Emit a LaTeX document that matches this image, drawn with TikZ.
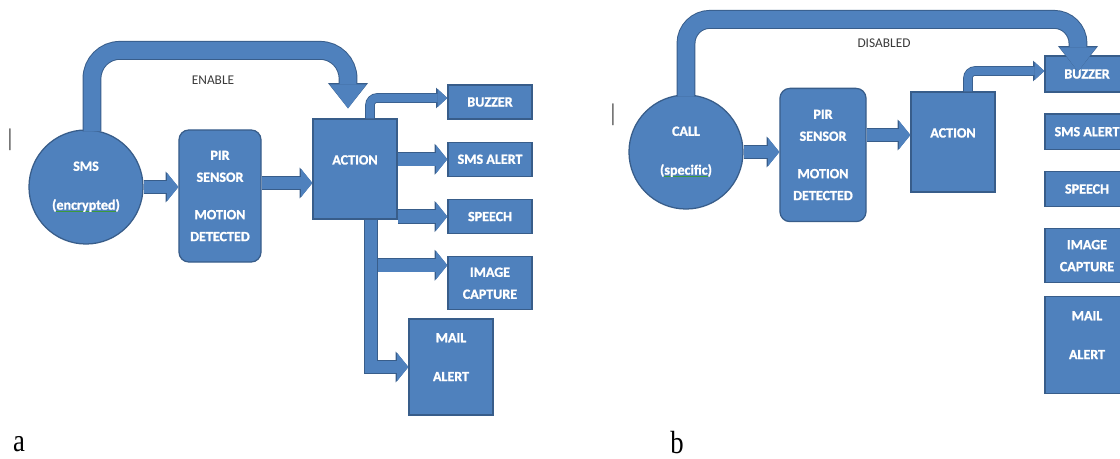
\documentclass[tikz,border=0pt]{standalone}
\usepackage{fontspec}
\setmainfont{Liberation Serif}
\newfontfamily\calibri{Carlito}[BoldFont={Carlito Bold}, BoldFeatures={FakeBold=1.2}]
\usetikzlibrary{positioning, arrows.meta, calc}

\definecolor{boxblue}{HTML}{4F81BD}
\definecolor{edgeblue}{HTML}{385D8A}
\definecolor{notegrey}{HTML}{3A3A3A}
\definecolor{spellgreen}{HTML}{3C9A3C}

\newcommand{\spellmark}[1]{{\setbox0=\hbox{#1}\rlap{\color{spellgreen}\rule[-2pt]{\wd0}{0.7pt}}\box0}}

\begin{document}
\begin{tikzpicture}[
    x=0.025cm, y=-0.025cm,
    block/.style={draw=edgeblue, fill=boxblue, line width=0.9pt, text=white, align=center, inner sep=0pt,
      font=\calibri\fontsize{10}{15.6}\selectfont\bfseries},
    source/.style={block, circle, minimum size=2.85cm},
    sensor/.style={block, rounded corners=7pt, minimum width=2.05cm, minimum height=3.3cm},
    action/.style={block, minimum width=2.1cm, minimum height=2.5cm, text depth=13pt},
    outbox/.style={block, minimum width=2.1cm, minimum height=0.85cm},
    mailbox/.style={block, minimum width=2.1cm, minimum height=2.4cm, text depth=14pt},
    note/.style={font=\calibri\fontsize{9.5}{11}\selectfont, text=notegrey},
    cursor/.style={font=\fontsize{17}{18}\selectfont, text=notegrey},
    caption/.style={font=\fontsize{19}{20}\selectfont, inner sep=0pt},
    bigflow/.style={draw=boxblue, line width=12pt, -{Triangle[width=26pt, length=17pt, line width=0pt]},
      preaction={draw=edgeblue, line width=13.4pt, -{Triangle[width=28.5pt, length=18pt, line width=0pt]}}},
    midflow/.style={draw=boxblue, line width=9pt, -{Triangle[width=20pt, length=8pt, line width=0pt]},
      preaction={draw=edgeblue, line width=10.2pt, -{Triangle[width=22pt, length=9pt, line width=0pt]}}},
    thinflow/.style={draw=boxblue, line width=5.7pt, -{Triangle[width=12.8pt, length=7pt, line width=0pt]},
      preaction={draw=edgeblue, line width=6.8pt, -{Triangle[width=14.6pt, length=8pt, line width=0pt]}}}
  ]
  \useasboundingbox (0,0) rectangle (1120,459);

  % panel a
  \node[source] (sms) at (86,187) {SMS\\[12pt](\spellmark{encrypted})};
  \node[sensor] (pir) at (220,196) {PIR\\SENSOR\\[11pt]MOTION\\DETECTED};
  \node[action] (act) at (355,169) {ACTION};
  \node[outbox] (buz) at (490,102) {BUZZER};
  \node[outbox, below=0.55cm of buz] (smsa) {SMS ALERT};
  \node[outbox, below=0.55cm of smsa] (spe) {SPEECH};
  \node[outbox, minimum height=1.32cm, below=0.55cm of spe] (img) {IMAGE\\CAPTURE};
  \node[mailbox] (mail) at (451,367) {MAIL\\[12pt]ALERT};

  \draw[bigflow, rounded corners=0.7cm] ($(sms.north)+(6,2)$) |- ($(act.north)+(-7,-68)$) -- ($(act.north)+(-7,-10)$);
  \draw[midflow] (sms.east) -- (sms.east -| pir.west);
  \coordinate (pirout) at ($(pir.east)+(0,-13)$);
  \draw[midflow] (pirout) -- (pirout -| act.west);
  \draw[thinflow, rounded corners=5pt] ($(act.north)+(15,0)$) |- ($(buz.west)+(0,-4)$);
  \draw[midflow] (act.east |- smsa.west) -- (smsa.west);
  \draw[midflow] (act.east |- spe.west) -- (spe.west);
  \draw[midflow] ($(act.south)+(16,0)$) |- ($(img.west)+(0,-18)$);
  \draw[midflow] ($(act.south)+(16,0)$) |- (mail.west);

  \node[note] (enable) at (213,80) {ENABLE};
  \node[cursor] (marka) at (10,140) {\textbar};
  \node[caption] (capa) at (19,444) {\scalebox{1}[1.2]{a}};

  % panel b
  \node[source] (call) at (686,152) {CALL\\[12pt](\spellmark{specific})};
  \node[sensor, minimum width=2.15cm, minimum height=3.33cm] (pir2) at (823,155) {PIR\\SENSOR\\[11pt]MOTION\\DETECTED};
  \node[action] (act2) at (953,142) {ACTION};
  \node[outbox, minimum height=0.9cm] (buz2) at (1087,74) {BUZZER};
  \node[outbox, minimum height=0.88cm, below=0.52cm of buz2] (smsa2) {SMS ALERT};
  \node[outbox, minimum height=0.88cm, below=0.52cm of smsa2] (spe2) {SPEECH};
  \node[outbox, minimum height=1.35cm, below=0.52cm of spe2] (img2) {IMAGE\\CAPTURE};
  \node[mailbox, minimum height=2.43cm] (mail2) at (1087,345) {MAIL\\[12pt]ALERT};

  \draw[midflow] (call.east) -- (call.east -| pir2.west);
  \coordinate (pir2out) at ($(pir2.east)+(0,-20)$);
  \draw[midflow] (pir2out) -- (pir2out -| act2.west);
  \draw[thinflow, rounded corners=5pt] ($(act2.north)+(15,0)$) |- ($(buz2.west)+(0,-3)$);
  \draw[bigflow, rounded corners=0.6cm] ($(call.north)+(0,2)$) |- ($(buz2.north)+(-9,-36)$) -- ($(buz2.north)+(-9,16)$);

  \node[note] (disabled) at (884,43) {DISABLED};
  \node[cursor] (markb) at (613,115) {\textbar};
  \node[caption] (capb) at (677,443) {\scalebox{1}[1.2]{b}};
\end{tikzpicture}
\end{document}
